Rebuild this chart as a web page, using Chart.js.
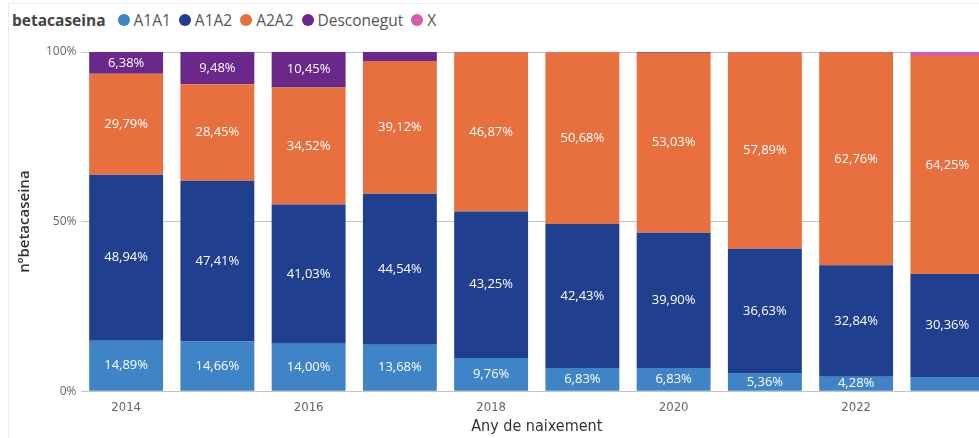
<!DOCTYPE html>
<html>
<head>
<meta charset="utf-8">
<script src="https://cdn.jsdelivr.net/npm/chart.js@4.4.1/dist/chart.umd.min.js"></script>
<style>
  html, body { margin: 0; padding: 0; background: #fff; overflow: hidden; width: 979px; height: 438px; }
  #frame { position: absolute; left: 8px; top: 3px; width: 1200px; height: 600px; border-top: 1px solid #ececec; border-left: 1px solid #ececec; }
  #legend { position: absolute; left: 12px; top: 9px; font-family: "Open Sans", "Noto Sans", sans-serif; font-size: 15.5px; color: #555; white-space: nowrap; display: flex; align-items: center; }
  #legend .title { font-weight: bold; color: #444; margin-right: 12px; }
  #legend .item { display: inline-flex; align-items: center; margin-right: 8px; }
  #legend .dot { width: 12px; height: 12px; border-radius: 50%; display: inline-block; margin-right: 4px; }
  #wrap { position: absolute; left: 0; top: 0; width: 993px; height: 438px; }
</style>
</head>
<body>
<div id="frame"></div>
<div id="legend"></div>
<div id="wrap"><canvas id="c"></canvas></div>
<script>
const years = ['2014','2015','2016','2017','2018','2019','2020','2021','2022','2023'];
const seriesNames = ['A1A1','A1A2','A2A2','Desconegut','X'];
const A1A1 = [14.89, 14.66, 14.00, 13.68, 9.76, 6.83, 6.83, 5.36, 4.28, 4.20];
const A1A2 = [48.94, 47.41, 41.03, 44.54, 43.25, 42.43, 39.90, 36.63, 32.84, 30.36];
const A2A2 = [29.79, 28.45, 34.52, 39.12, 46.87, 50.68, 53.03, 57.89, 62.76, 64.25];
const Desconegut = [6.38, 9.48, 10.45, 2.66, 0.12, 0.06, 0.24, 0.12, 0.12, 0.00];
const X = [0, 0, 0, 0, 0, 0, 0, 0, 0, 1.19];
const yTicks = [0, 50, 100];
const colors = ['#3F84C6', '#203F8E', '#E8703F', '#69288A', '#D65CAB'];

const values = [A1A1, A1A2, A2A2, Desconegut, X];

// HTML legend
const lg = document.getElementById('legend');
lg.innerHTML = '<span class="title">betacaseina</span>' + seriesNames.map((n, i) =>
  '<span class="item"><span class="dot" style="background:' + colors[i] + '"></span>' + n + '</span>').join('');

const labelPlugin = {
  id: 'segLabels',
  afterDatasetsDraw(chart) {
    const ctx = chart.ctx;
    ctx.save();
    ctx.font = '13px "Open Sans", "Noto Sans", sans-serif';
    ctx.fillStyle = '#ffffff';
    ctx.textAlign = 'center';
    ctx.textBaseline = 'middle';
    chart.data.datasets.forEach((ds, di) => {
      const meta = chart.getDatasetMeta(di);
      meta.data.forEach((el, i) => {
        const v = ds.data[i];
        if (v < 4.25) return;
        const yc = (el.y + el.base) / 2;
        ctx.fillText(v.toFixed(2).replace('.', ',') + '%', el.x, yc);
      });
    });
    ctx.restore();
  }
};

new Chart(document.getElementById('c'), {
  type: 'bar',
  data: {
    labels: years,
    datasets: seriesNames.map((n, i) => ({
      label: n,
      data: values[i],
      backgroundColor: colors[i],
      borderWidth: 0,
      categoryPercentage: 1,
      barPercentage: 0.81
    }))
  },
  options: {
    responsive: true,
    maintainAspectRatio: false,
    animation: false,
    layout: { padding: { top: 52, left: 16, right: 0, bottom: 2 } },
    plugins: { legend: { display: false }, tooltip: { enabled: false } },
    scales: {
      x: {
        stacked: true,
        grid: { display: false },
        border: { display: false },
        ticks: {
          autoSkip: false,
          maxRotation: 0,
          color: '#666',
          font: { family: '"Liberation Sans Narrow", "DejaVu Sans Condensed", sans-serif', size: 13 },
          padding: 1,
          callback: function (val, i) { return i % 2 === 0 ? years[i] : ''; }
        },
        title: {
          display: true,
          text: 'Any de naixement',
          color: '#333',
          font: { family: '"Liberation Sans Narrow", "DejaVu Sans Condensed", sans-serif', size: 16 },
          padding: { top: 0, bottom: 0 }
        }
      },
      y: {
        stacked: true,
        min: 0,
        max: 100,
        afterBuildTicks: function (axis) { axis.ticks = yTicks.map(v => ({ value: v })); },
        grid: { color: '#c4c4c4', lineWidth: 1, drawTicks: false },
        border: { display: false },
        ticks: {
          color: '#666',
          padding: 4,
          font: { family: '"Open Sans", "Noto Sans", sans-serif', size: 12 },
          callback: function (v) { return v + '%'; }
        },
        title: {
          display: true,
          text: 'nºbetacaseina',
          color: '#333',
          font: { family: '"Open Sans", "Noto Sans", sans-serif', size: 15, weight: '600' },
          padding: { top: 0, bottom: 8 }
        }
      }
    }
  },
  plugins: [labelPlugin]
});
</script>
</body>
</html>
